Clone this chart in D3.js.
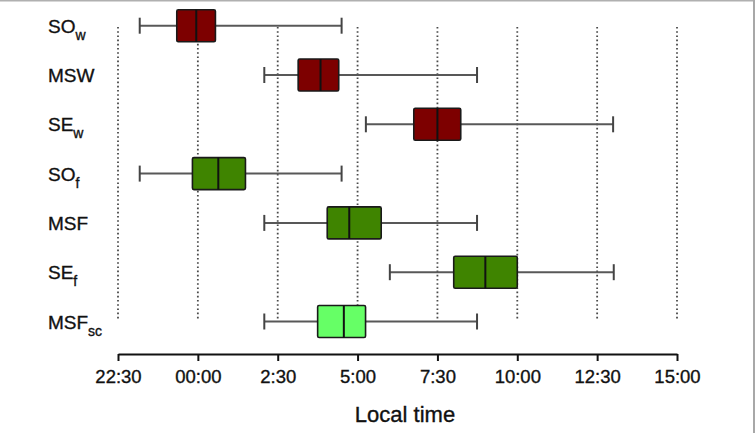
<!DOCTYPE html>
<html>
<head>
<meta charset="utf-8">
<script src="https://cdn.jsdelivr.net/npm/d3@7"></script>
<style>
  body { margin: 0; background: #fff; }
  svg { display: block; font-family: "Liberation Sans", Arial, sans-serif; }
  text { stroke: #111; stroke-width: 0.35px; }
</style>
</head>
<body>
<svg id="chart" width="756" height="433"></svg>
<script>
(function() {
    var width = 756, height = 433

    // rows, top to bottom: [main label, subscript]
    const labels = [["SO", "w"], ["MSW", ""], ["SE", "w"], ["SO", "f"], ["MSF", ""], ["SE", "f"], ["MSF", "sc"]];
    // hours from midnight (negative = before midnight)
    const whiskerLow  = [-1.82, 2.08, 5.26, -1.82, 2.08, 6.01, 2.08];
    const q1          = [-0.66, 3.14, 6.76, -0.17, 4.05, 8.01, 3.75];
    const median      = [-0.05, 3.84, 7.50, 0.64, 4.74, 9.00, 4.57];
    const q3          = [0.55, 4.41, 8.23, 1.49, 5.74, 10.0, 5.25];
    const whiskerHigh = [4.50, 8.74, 13.0, 4.50, 8.74, 13.02, 8.74];
    const fills = ["#7d0000", "#7d0000", "#7d0000", "#3f8400", "#3f8400", "#3f8400", "#66ff66"];

    const tickValues = [-2.5, 0, 2.5, 5, 7.5, 10, 12.5, 15];
    const tickLabels = ["22:30", "00:00", "2:30", "5:00", "7:30", "10:00", "12:30", "15:00"];

    const svg = d3.select("#chart");

    // frame edges seen in the picture
    svg.append("line").attr("x1", 0).attr("x2", 755).attr("y1", 0.5).attr("y2", 0.5)
        .attr("stroke", "#b0b0b0").attr("stroke-width", 2);
    svg.append("line").attr("x1", 754).attr("x2", 754).attr("y1", 0).attr("y2", height)
        .attr("stroke", "#a8a8a8").attr("stroke-width", 2);

    let x = d3.scaleLinear()
        .domain([-2.5, 15])
        .range([118, 677]);

    let y = d3.scalePoint()
        .domain(d3.range(labels.length))
        .range([25.7, 321.5]);

    // dotted grid
    svg.append("g")
        .selectAll("line")
        .data(tickValues)
        .join("line")
        .attr("x1", (d) => x(d))
        .attr("x2", (d) => x(d))
        .attr("y1", 27)
        .attr("y2", 321)
        .attr("stroke", "#4a4a4a")
        .attr("stroke-width", 1.8)
        .attr("stroke-dasharray", "1.6,2.6");

    const rows = svg.append("g")
        .selectAll("g")
        .data(labels.map((l, i) => i))
        .join("g")
        .attr("transform", (i) => `translate(0,${y(i)})`);

    // whiskers
    rows.append("line")
        .attr("x1", (i) => x(whiskerLow[i]))
        .attr("x2", (i) => x(whiskerHigh[i]))
        .attr("stroke", "#585858")
        .attr("stroke-width", 2);

    rows.selectAll("line.cap")
        .data((i) => [whiskerLow[i], whiskerHigh[i]])
        .join("line")
        .attr("class", "cap")
        .attr("x1", (d) => x(d))
        .attr("x2", (d) => x(d))
        .attr("y1", -8)
        .attr("y2", 8)
        .attr("stroke", "#444")
        .attr("stroke-width", 2);

    // boxes
    rows.append("rect")
        .attr("x", (i) => x(q1[i]))
        .attr("width", (i) => x(q3[i]) - x(q1[i]))
        .attr("y", -16)
        .attr("height", 32)
        .attr("rx", 1.5)
        .attr("fill", (i) => fills[i])
        .attr("stroke", "#1a1a1a")
        .attr("stroke-width", 1.6);

    rows.append("line")
        .attr("x1", (i) => x(median[i]))
        .attr("x2", (i) => x(median[i]))
        .attr("y1", -16)
        .attr("y2", 16)
        .attr("stroke", "#111")
        .attr("stroke-width", 2);

    // row labels
    let txt = rows.append("text")
        .attr("x", 48)
        .attr("y", 7)
        .attr("font-size", "19px")
        .attr("fill", "#111");
    txt.append("tspan").text((i) => labels[i][0]);
    txt.append("tspan")
        .attr("dy", 7)
        .attr("font-size", "14px")
        .text((i) => labels[i][1]);

    // axis
    let axis = d3.axisBottom(x)
        .tickValues(tickValues)
        .tickFormat((d, i) => tickLabels[i])
        .tickSize(7)
        .tickSizeOuter(0)
        .tickPadding(9);

    let ax = svg.append("g")
        .attr("transform", "translate(0,354)")
        .call(axis);
    ax.select(".domain").attr("stroke", "#111").attr("stroke-width", 2);
    ax.selectAll(".tick line").attr("stroke", "#111").attr("stroke-width", 2);
    ax.selectAll(".tick text")
        .attr("font-size", "18.5px")
        .attr("font-family", "'Liberation Sans', Arial, sans-serif")
        .attr("fill", "#111");

    svg.append("text")
        .attr("x", 405)
        .attr("y", 422)
        .attr("text-anchor", "middle")
        .attr("font-size", "22px")
        .attr("fill", "#111")
        .text("Local time");
})()
</script>
</body>
</html>
